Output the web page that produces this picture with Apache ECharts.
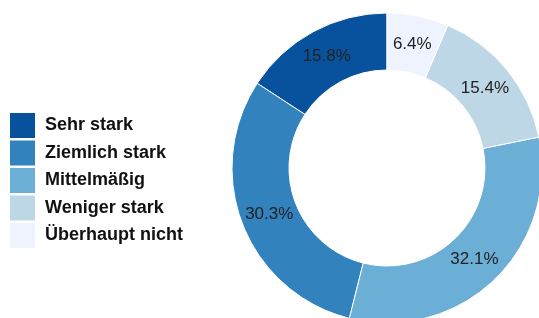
<!DOCTYPE html>
<html><head><meta charset="utf-8">
<script src="https://cdn.jsdelivr.net/npm/echarts@6/dist/echarts.min.js"></script>
<style>html,body{margin:0;padding:0;background:#fff}#c{width:539px;height:318px}</style>
</head><body><div id="c"></div>
<script>
var categories = ['Sehr stark', 'Ziemlich stark', 'Mittelmäßig', 'Weniger stark', 'Überhaupt nicht'];
var values = [15.8, 30.3, 32.1, 15.4, 6.4];
var colors = ['#08519c', '#3182bd', '#6baed6', '#bdd7e7', '#eff3ff'];

var pieData = categories.map(function(c, i){ return {name: c, value: values[i]}; });
var chart = echarts.init(document.getElementById('c'), null, {renderer: 'canvas'});
chart.setOption({
  animation: false,
  color: colors,
  legend: {
    orient: 'vertical',
    left: 10,
    top: 113,
    padding: 0,
    itemWidth: 25,
    itemHeight: 25,
    itemGap: 2.5,
    icon: 'rect',
    itemStyle: {borderWidth: 0},
    data: categories,
    textStyle: {fontFamily: 'Liberation Sans, Arial, sans-serif', fontSize: 18, fontWeight: 'bold', color: '#111', padding: [0,0,0,5], lineHeight: 20}
  },
  series: [{
    type: 'pie',
    center: [387, 168],
    radius: [98, 155],
    startAngle: 90,
    clockwise: false,
    avoidLabelOverlap: false,
    itemStyle: {borderColor: '#fff', borderWidth: 1},
    label: {show: false},
    labelLine: {show: false},
    emphasis: {disabled: true},
    data: pieData
  }, {
    type: 'pie',
    center: [387, 168],
    radius: [92, 155],
    startAngle: 90,
    clockwise: false,
    silent: true,
    avoidLabelOverlap: false,
    itemStyle: {color: 'rgba(0,0,0,0)', borderWidth: 0},
    label: {
      position: 'inside',
      formatter: function(p){ return p.value.toFixed(1) + '%'; },
      fontFamily: 'Liberation Sans, Arial, sans-serif',
      fontSize: 17,
      color: '#222'
    },
    labelLine: {show: false},
    emphasis: {disabled: true},
    data: pieData
  }]
});
</script></body></html>
